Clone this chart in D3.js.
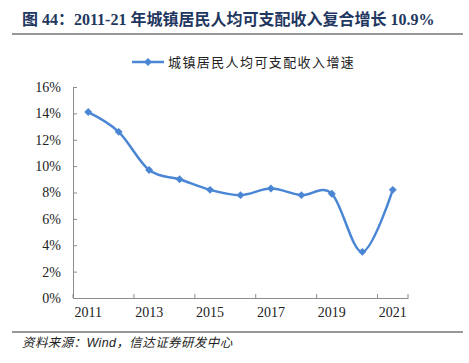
<!DOCTYPE html>
<html>
<head>
<meta charset="utf-8">
<script src="https://cdn.jsdelivr.net/npm/d3@7"></script>
<style>
  body { margin: 0; background: #fff; }
  svg { display: block; }
  .axis text { font-family: "Liberation Serif", "Times New Roman", serif; font-size: 14px; fill: #222; }
  .axis path, .axis line { stroke: #8c8c8c; }
</style>
</head>
<body>
<svg width="469" height="363"></svg>
<script>
var years = ['2011','2012','2013','2014','2015','2016','2017','2018','2019','2020','2021'];
var growth = [14.1, 12.6, 9.7, 9.0, 8.2, 7.8, 8.3, 7.8, 7.9, 3.5, 8.2];
var yTicks = [0, 2, 4, 6, 8, 10, 12, 14, 16];
var xLabels = ['2011','2013','2015','2017','2019','2021'];

var blue = '#4a86d4';
var svg = d3.select('svg');

// title
svg.append('text')
    .attr('x', 22).attr('y', 25)
    .style('font-family', '"Liberation Serif", "Noto Sans CJK SC", serif')
    .style('font-size', '16px')
    .style('font-weight', 'bold')
    .style('fill', '#1f3760')
    .text('图 44：2011-21 年城镇居民人均可支配收入复合增长 10.9%');

svg.append('line')
    .attr('x1', 12).attr('x2', 463).attr('y1', 34).attr('y2', 34)
    .style('stroke', '#333').style('stroke-width', 1.2);

var xScale = d3.scaleBand()
    .domain(years)
    .range([73, 408])
    .padding(0);

var yScale = d3.scaleLinear()
    .domain([0, 16])
    .range([298, 87]);

// y axis
var yAxis = d3.axisLeft(yScale)
    .tickValues(yTicks)
    .tickSize(-4)
    .tickPadding(12)
    .tickFormat(function(d){ return d + '%'; });

svg.append('g')
    .attr('class', 'y axis')
    .attr('transform', 'translate(73,0)')
    .call(yAxis);

// x axis
var xAxis = d3.axisBottom(xScale)
    .tickValues(xLabels)
    .tickSize(0)
    .tickPadding(9)
    .tickSizeOuter(0);

svg.append('g')
    .attr('class', 'x axis')
    .attr('transform', 'translate(0,298)')
    .call(xAxis);

// x tick marks between categories
var xTickPos = years.filter(function(d, i){ return i % 2 === 0; })
    .map(function(d){ return xScale(d); });
xTickPos.push(xScale.range()[1]);

svg.append('g').selectAll('line')
    .data(xTickPos)
    .enter()
    .append('line')
    .attr('x1', function(d){ return d; })
    .attr('x2', function(d){ return d; })
    .attr('y1', 298).attr('y2', 294)
    .style('stroke', '#8c8c8c');

// line
var line = d3.line()
    .x(function(d, i){ return xScale(years[i]) + xScale.bandwidth() / 2; })
    .y(function(d){ return yScale(d); })
    .curve(d3.curveCardinal.tension(0));

svg.append('path')
    .datum(growth)
    .attr('d', line)
    .style('fill', 'none')
    .style('stroke', blue)
    .style('stroke-width', 2.5);

var diamond = d3.symbol().type(d3.symbolDiamond2).size(40);

svg.selectAll('.pt')
    .data(growth)
    .enter()
    .append('path')
    .attr('class', 'pt')
    .attr('d', diamond)
    .attr('transform', function(d, i){
        return 'translate(' + (xScale(years[i]) + xScale.bandwidth() / 2) + ',' + yScale(d) + ')';
    })
    .style('fill', blue);

// legend
svg.append('line')
    .attr('x1', 132).attr('x2', 164).attr('y1', 62).attr('y2', 62)
    .style('stroke', blue).style('stroke-width', 2.5);
svg.append('path')
    .attr('d', diamond)
    .attr('transform', 'translate(148,62)')
    .style('fill', blue);
svg.append('text')
    .attr('x', 168).attr('y', 67)
    .style('font-family', '"Noto Sans CJK SC", sans-serif')
    .style('font-size', '13px')
    .style('letter-spacing', '1.4px')
    .style('fill', '#222')
    .text('城镇居民人均可支配收入增速');

// source
svg.append('line')
    .attr('x1', 12).attr('x2', 463).attr('y1', 332).attr('y2', 332)
    .style('stroke', '#333').style('stroke-width', 1.2);
svg.append('text')
    .attr('x', 22).attr('y', 347)
    .style('font-family', '"Liberation Sans", "Noto Sans CJK SC", sans-serif')
    .style('font-size', '12.5px')
    .style('letter-spacing', '0.4px')
    .style('font-style', 'italic')
    .style('fill', '#222')
    .text('资料来源：Wind，信达证券研发中心');
</script>
</body>
</html>
